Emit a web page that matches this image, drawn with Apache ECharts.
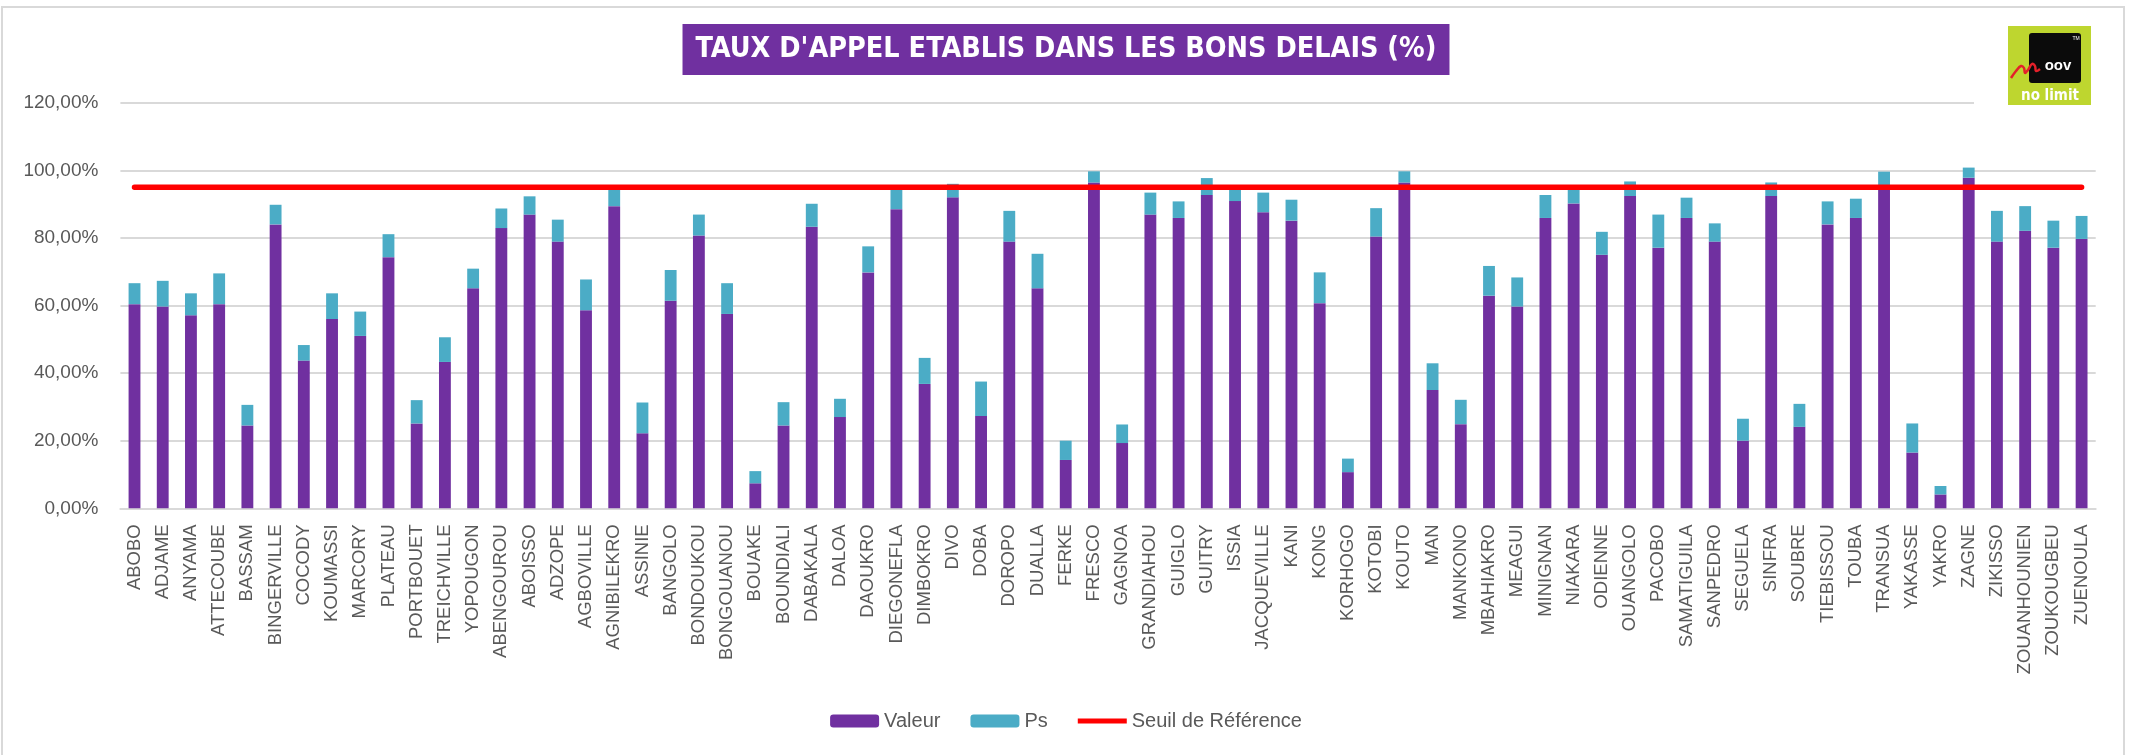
<!DOCTYPE html>
<html>
<head>
<meta charset="utf-8">
<script src="https://cdn.jsdelivr.net/npm/echarts@6/dist/echarts.min.js"></script>
<style>
html,body{margin:0;padding:0;background:#fff;}
#chart{width:2132px;height:755px;}
</style>
</head>
<body>
<div id="chart"></div>
<script>
const categories = ['ABOBO','ADJAME','ANYAMA','ATTECOUBE','BASSAM','BINGERVILLE','COCODY','KOUMASSI','MARCORY','PLATEAU','PORTBOUET','TREICHVILLE','YOPOUGON','ABENGOUROU','ABOISSO','ADZOPE','AGBOVILLE','AGNIBILEKRO','ASSINIE','BANGOLO','BONDOUKOU','BONGOUANOU','BOUAKE','BOUNDIALI','DABAKALA','DALOA','DAOUKRO','DIEGONEFLA','DIMBOKRO','DIVO','DOBA','DOROPO','DUALLA','FERKE','FRESCO','GAGNOA','GRANDIAHOU','GUIGLO','GUITRY','ISSIA','JACQUEVILLE','KANI','KONG','KORHOGO','KOTOBI','KOUTO','MAN','MANKONO','MBAHIAKRO','MEAGUI','MINIGNAN','NIAKARA','ODIENNE','OUANGOLO','PACOBO','SAMATIGUILA','SANPEDRO','SEGUELA','SINFRA','SOUBRE','TIEBISSOU','TOUBA','TRANSUA','YAKASSE','YAKRO','ZAGNE','ZIKISSO','ZOUANHOUNIEN','ZOUKOUGBEU','ZUENOULA'];

const valeur = [60.4,59.7,57.1,60.4,24.5,84.0,43.7,56.0,51.0,74.3,25.1,43.3,65.1,82.9,86.9,78.9,58.6,89.4,22.2,61.4,80.7,57.5,7.4,24.5,83.3,27.0,69.8,88.5,36.8,92.0,27.3,78.9,65.1,14.3,96.4,19.3,86.9,85.9,92.7,90.9,87.6,85.1,60.7,10.7,80.4,96.4,35.0,24.9,62.9,59.7,85.9,90.2,75.0,92.4,77.1,85.9,78.9,20.0,92.4,24.1,84.0,85.9,94.5,16.5,4.1,97.8,78.9,82.1,77.1,79.7];

const ps = [6.2,7.6,6.5,9.1,6.1,5.8,4.6,7.6,7.2,6.8,6.9,7.3,5.8,5.8,5.4,6.5,9.1,5.1,9.1,9.1,6.2,9.1,3.6,6.9,6.8,5.4,7.7,6.0,7.7,4.0,10.2,9.1,10.2,5.7,3.3,5.5,6.5,4.9,5.0,3.6,5.8,6.2,9.1,4.0,8.4,3.3,7.9,7.2,8.8,8.6,6.8,4.3,6.8,4.3,9.8,6.0,5.4,6.5,4.0,6.8,6.8,5.7,5.1,8.6,2.5,3.0,9.1,7.3,8.0,6.8];

const seuil = [95,95,95,95,95,95,95,95,95,95,95,95,95,95,95,95,95,95,95,95,95,95,95,95,95,95,95,95,95,95,95,95,95,95,95,95,95,95,95,95,95,95,95,95,95,95,95,95,95,95,95,95,95,95,95,95,95,95,95,95,95,95,95,95,95,95,95,95,95,95];

const yTicks = {min: 0, max: 120, interval: 20};

const titleText = "TAUX D'APPEL ETABLIS DANS LES BONS DELAIS (%)";
const seriesNames = ['Valeur', 'Ps', 'Seuil de Référence'];

const chart = echarts.init(document.getElementById('chart'), null, {renderer: 'canvas'});

const option = {
  backgroundColor: '#ffffff',
  animation: false,
  title: {
    text: titleText,
    left: 'center',
    top: 24,
    padding: [11, 13, 11, 13],
    backgroundColor: '#7030A0',
    textStyle: {
      color: '#ffffff',
      fontFamily: "'DejaVu Sans Condensed', 'DejaVu Sans', sans-serif",
      fontWeight: 'bold',
      fontSize: 28.5,
      lineHeight: 29
    }
  },
  grid: {left: 120.4, right: 36.3, top: 102.7, bottom: 246.7, containLabel: false},
  legend: {
    data: [
      {name: seriesNames[0]},
      {name: seriesNames[1]},
      {name: seriesNames[2], icon: 'path://M0,0L0.01,0M0,4L49,4L49,9L0,9ZM0,13L0.01,13', itemStyle: {color: '#FF0000', borderWidth: 0}}
    ],
    bottom: 19,
    left: 'center',
    itemWidth: 49,
    itemHeight: 13,
    itemGap: 30,
    textStyle: {color: '#595959', fontSize: 20, fontFamily: "'Liberation Sans', sans-serif"}
  },
  xAxis: {
    type: 'category',
    data: categories,
    axisTick: {show: false},
    axisLine: {lineStyle: {color: '#d9d9d9', width: 2}},
    axisLabel: {
      interval: 0,
      rotate: 90,
      margin: 16,
      color: '#595959',
      fontSize: 18.5,
      fontFamily: "'Liberation Sans', Arial, sans-serif"
    }
  },
  yAxis: {
    type: 'value',
    min: yTicks.min,
    max: yTicks.max,
    interval: yTicks.interval,
    axisLine: {show: false},
    axisTick: {show: false},
    splitLine: {lineStyle: {color: '#d9d9d9', width: 2}},
    axisLabel: {
      margin: 22,
      color: '#595959',
      fontSize: 19,
      fontFamily: "'Liberation Sans', sans-serif",
      formatter: function (v) { return v.toFixed(2).replace('.', ',') + '%'; }
    }
  },
  series: [
    {
      name: seriesNames[0],
      type: 'bar',
      stack: 'total',
      data: valeur,
      barWidth: '42%',
      itemStyle: {color: '#7030A0'},
      z: 2
    },
    {
      name: seriesNames[1],
      type: 'bar',
      stack: 'total',
      data: ps,
      barWidth: '42%',
      itemStyle: {color: '#4BACC6'},
      z: 2
    },
    {
      name: seriesNames[2],
      type: 'line',
      data: seuil,
      symbol: 'none',
      showSymbol: false,
      lineStyle: {color: '#FF0000', width: 5.5, cap: 'round'},
      itemStyle: {color: '#FF0000'},
      z: 5
    }
  ],
  graphic: [
    {type: 'rect', shape: {x: 2, y: 7, width: 2122, height: 760}, style: {fill: 'none', stroke: '#d9d9d9', lineWidth: 2}, z: 0, silent: true},
    {type: 'rect', shape: {x: 1974, y: 9, width: 148, height: 108}, style: {fill: '#ffffff'}, z: 50, silent: true},
    {type: 'rect', shape: {x: 2008, y: 26, width: 83, height: 79}, style: {fill: '#BED62F'}, z: 51, silent: true},
    {type: 'rect', shape: {x: 2029, y: 33, width: 52, height: 50, r: 3}, style: {fill: '#0b0b0b'}, z: 52, silent: true},
    {type: 'text', x: 2058, y: 66, style: {text: 'oov', fill: '#ffffff', font: 'bold 15px "Liberation Sans", sans-serif', align: 'center', verticalAlign: 'middle'}, z: 53, silent: true},
    {type: 'polyline', shape: {points: [[2011,78],[2016,71],[2021,66],[2024,68],[2025,73],[2028,70],[2032,64],[2035,66],[2036,71],[2040,69]], smooth: 0.4}, style: {fill: null, stroke: '#E4202A', lineWidth: 2.5}, z: 54, silent: true},
    {type: 'text', x: 2076, y: 39, style: {text: 'TM', fill: '#ffffff', font: '5px sans-serif', align: 'center', verticalAlign: 'middle'}, z: 53, silent: true},
    {type: 'text', x: 2050, y: 96, style: {text: 'no limit', fill: '#ffffff', font: 'bold 15px "DejaVu Sans Condensed", "Liberation Sans", sans-serif', align: 'center', verticalAlign: 'middle'}, z: 53, silent: true}
  ]
};

chart.setOption(option);
</script>
</body>
</html>
